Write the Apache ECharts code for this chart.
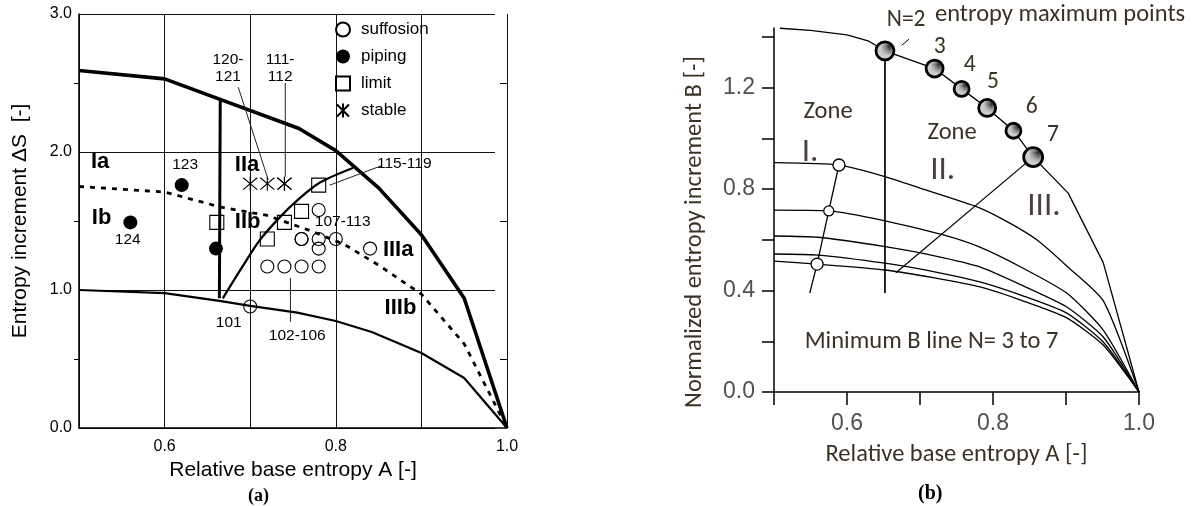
<!DOCTYPE html>
<html>
<head>
<meta charset="utf-8">
<script src="https://cdn.jsdelivr.net/npm/echarts@6/dist/echarts.min.js"></script>
<style>
  html, body { margin: 0; padding: 0; background: #fff; }
  #chart { width: 1196px; height: 506px; }
</style>
</head>
<body>
<div id="chart"></div>
<script>
// ---------- (a) test results: [A, ΔS] ----------
const suffosion = [[0.70, 0.88], [0.72, 1.17], [0.74, 1.17], [0.76, 1.17], [0.78, 1.17],
  [0.76, 1.37], [0.76, 1.37], [0.78, 1.37], [0.78, 1.30], [0.80, 1.37], [0.78, 1.58], [0.84, 1.30]];
const piping = [[0.62, 1.76], [0.56, 1.49], [0.66, 1.30]];
const limit = [[0.661, 1.49], [0.72, 1.37], [0.74, 1.49], [0.76, 1.57], [0.78, 1.76]];
const stable = [[0.70, 1.77], [0.72, 1.77], [0.74, 1.77], [0.74, 1.77]];

// (a) zone boundaries
const upperBound = [[0.5, 2.59], [0.6, 2.53], [0.757, 2.17], [0.8, 2.01], [0.85, 1.74], [0.9, 1.40], [0.95, 0.94], [1.0, 0]];
const lowerBound = [[0.5, 1.0], [0.6, 0.978], [0.666, 0.92], [0.7, 0.885], [0.755, 0.836], [0.8, 0.775],
  [0.842, 0.696], [0.9, 0.543], [0.95, 0.362], [1.0, 0]];
const abDivide = [[0.5, 1.75], [0.6, 1.71], [0.666, 1.60], [0.72, 1.54], [0.77, 1.43], [0.81, 1.33],
  [0.85, 1.18], [0.9, 0.97], [0.95, 0.61], [1.0, 0]];
const zone2Left = [[0.665, 2.38], [0.664, 0.94]];
const zone3Lower = [[0.668, 0.94], [0.69, 1.16], [0.711, 1.36], [0.735, 1.53], [0.755, 1.65], [0.782, 1.78], [0.82, 1.884]];

// (a) annotations: [text, A, ΔS]
const zoneNamesA = [['Ia', 0.514, 1.93], ['Ib', 0.515, 1.52], ['IIa', 0.682, 1.906], ['IIb', 0.682, 1.49],
  ['IIIa', 0.855, 1.29], ['IIIb', 0.857, 0.87]];
const testNosA = [['123', 0.624, 1.906], ['124', 0.557, 1.362], ['120-\n121', 0.674, 2.605], ['111-\n112', 0.735, 2.605],
  ['115-119', 0.88, 1.913], ['107-113', 0.808, 1.493], ['101', 0.675, 0.762], ['102-106', 0.755, 0.667]];
const leadersA = [
  [[0.686, 2.47], [0.721, 1.80]],
  [[0.741, 2.50], [0.741, 1.82]],
  [[0.853, 1.90], [0.793, 1.76]],
  [[0.747, 1.087], [0.747, 0.77]]
];
const ticksA = { x: [0.6, 0.8, 1.0], yLabels: [0, 1, 2, 3], yMinor: [0.5, 1.5, 2.5] };

// ---------- (b) normalized entropy increment B: [A, B] ----------
const envelopeB = [[0.508, 1.434], [0.55, 1.426], [0.6, 1.408], [0.63, 1.383], [0.652, 1.345], [0.72, 1.275],
  [0.757, 1.195], [0.792, 1.12], [0.828, 1.03], [0.855, 0.926], [0.903, 0.784], [0.951, 0.51], [1.0, 0]];
const curveN3 = [[0.5, 0.904], [0.589, 0.895], [0.652, 0.849], [0.70, 0.804], [0.779, 0.729], [0.823, 0.666],
  [0.86, 0.60], [0.901, 0.497], [0.951, 0.36], [1.0, 0]];
const curveN4 = [[0.5, 0.717], [0.575, 0.714], [0.652, 0.675], [0.732, 0.619], [0.782, 0.571], [0.84, 0.49],
  [0.901, 0.39], [0.951, 0.244], [1.0, 0]];
const curveN5 = [[0.5, 0.615], [0.56, 0.61], [0.652, 0.573], [0.72, 0.537], [0.782, 0.493], [0.84, 0.42],
  [0.901, 0.335], [0.951, 0.217], [1.0, 0]];
const curveN6 = [[0.5, 0.544], [0.56, 0.54], [0.652, 0.508], [0.72, 0.474], [0.782, 0.434], [0.84, 0.38],
  [0.901, 0.311], [0.951, 0.197], [1.0, 0]];
const curveN7 = [[0.5, 0.516], [0.559, 0.504], [0.652, 0.481], [0.72, 0.45], [0.782, 0.414], [0.84, 0.36],
  [0.901, 0.292], [0.951, 0.185], [1.0, 0]];
const maxPointsB = [[0.652, 1.345], [0.72, 1.275], [0.757, 1.195], [0.792, 1.12], [0.828, 1.03], [0.855, 0.926]];
const minPointsB = [[0.589, 0.895], [0.575, 0.714], [0.559, 0.504]];
const minLineB = [[0.589, 0.895], [0.575, 0.714], [0.559, 0.504], [0.549, 0.39]];
const zone2LeftB = [[0.652, 1.345], [0.652, 0.39]];
const zone3LeftB = [[0.855, 0.926], [0.667, 0.47]];
const n2LeaderB = [[0.675, 1.367], [0.685, 1.391]];

// (b) annotations: [text, A, B]
const maxTagsB = [['N=2', 0.681, 1.466], ['3', 0.727, 1.36], ['4', 0.768, 1.289], ['5', 0.8, 1.222],
  ['6', 0.853, 1.123], ['7', 0.882, 1.012]];
const zoneWordsB = [['Zone', 0.574, 1.103], ['Zone', 0.744, 1.02]];
const zoneNumsB = [['I.', 0.538, 0.942], ['II.', 0.714, 0.871], ['III.', 0.847, 0.729]];
const notesB = [['entropy maximum points', 0.7205, 1.486], ['Minimum B line N= 3 to 7', 0.542, 0.197]];
const ticksB = { x: [0.5, 0.6, 0.7, 0.8, 0.9, 1.0], xLabels: [0.6, 0.8, 1.0],
  y: [0, 0.2, 0.4, 0.6, 0.8, 1.0, 1.2, 1.4], yLabels: [0, 0.4, 0.8, 1.2] };

// ---------- styling ----------
const FA = "'Liberation Sans', Arial, Helvetica, sans-serif";
const FB = "Carlito, Lato, 'Open Sans', sans-serif";
const FS = "'Liberation Serif', 'Times New Roman', serif";
const INK_B = '#3b3226';
const ASTER = 'path://M0,-10L0,10M-8.5,-8.5L8.5,8.5M-8.5,8.5L8.5,-8.5';

// speckled fill for the entropy maximum points
const dots = document.createElement('canvas');
dots.width = 3; dots.height = 3;
const dctx = dots.getContext('2d');
dctx.fillStyle = '#cdcdcd'; dctx.fillRect(0, 0, 3, 3);
dctx.fillStyle = '#2a2a2a'; dctx.fillRect(1, 1, 1, 1); dctx.fillRect(0, 2, 1, 1);

const fmt1 = v => Number(v).toFixed(1);

function line(data, xi, yi, width, opts) {
  return Object.assign({
    type: 'line', xAxisIndex: xi, yAxisIndex: yi, data: data, showSymbol: false, symbol: 'none',
    silent: true, z: 2, clip: false,
    lineStyle: { color: '#000', width: width }
  }, opts || {});
}

function texts(items, xi, yi, label) {
  return {
    type: 'scatter', xAxisIndex: xi, yAxisIndex: yi, symbolSize: 1, silent: true, z: 5, clip: false,
    itemStyle: { color: 'transparent', opacity: 1 },
    data: items.map(t => ({ value: [t[1], t[2]], label: { formatter: t[0] } })),
    label: Object.assign({ show: true, position: 'inside', verticalAlign: 'middle', textBorderWidth: 0 }, label)
  };
}

function marks(name, data, symbol, size, filled) {
  return {
    name: name, type: 'scatter', xAxisIndex: 0, yAxisIndex: 0, data: data, symbol: symbol, symbolSize: size, z: 3,
    itemStyle: filled
      ? { color: '#000', borderWidth: 0, opacity: 1 }
      : { color: 'transparent', borderColor: '#000', borderWidth: 1.1, opacity: 1 }
  };
}

const series = [
  // (a) boundaries
  line(upperBound, 0, 0, 3.6),
  line(lowerBound, 0, 0, 2.2),
  line(abDivide, 0, 0, 2.8, { lineStyle: { color: '#000', width: 2.8, type: [5, 6] } }),
  line(zone2Left, 0, 0, 3),
  line(zone3Lower, 0, 0, 2.3, { smooth: 0.3 }),
  ...leadersA.map(seg => line(seg, 0, 0, 1, { lineStyle: { color: '#222', width: 1 } })),
  // (a) test points
  marks('suffosion', suffosion, 'circle', 13, false),
  marks('piping', piping, 'circle', 14, true),
  marks('limit', limit, 'rect', 14, false),
  marks('stable', stable, ASTER, 14, false),
  texts(zoneNamesA, 0, 0, { align: 'left', fontFamily: FA, fontSize: 22, fontWeight: 'bold', color: '#000' }),
  texts(testNosA, 0, 0, { align: 'center', fontFamily: FA, fontSize: 15.5, lineHeight: 17, color: '#000' }),

  // (b) curves
  line(envelopeB, 1, 2, 1.3),
  line(curveN3, 1, 2, 1.3, { smooth: 0.2 }),
  line(curveN4, 1, 2, 1.3, { smooth: 0.2 }),
  line(curveN5, 1, 2, 1.3, { smooth: 0.2 }),
  line(curveN6, 1, 2, 1.3, { smooth: 0.2 }),
  line(curveN7, 1, 2, 1.3, { smooth: 0.2 }),
  line(minLineB, 1, 2, 1.3),
  line(zone2LeftB, 1, 2, 1.7),
  line(zone3LeftB, 1, 2, 1.2),
  line(n2LeaderB, 1, 2, 1),
  { type: 'scatter', xAxisIndex: 1, yAxisIndex: 2, data: minPointsB, symbol: 'circle', z: 3, silent: true,
    symbolSize: (v, p) => [12, 10, 12][p.dataIndex],
    itemStyle: { color: '#fff', borderColor: '#000', borderWidth: 1.3, opacity: 1 } },
  { type: 'scatter', xAxisIndex: 1, yAxisIndex: 2, data: maxPointsB, symbol: 'circle', z: 3, silent: true, clip: false,
    symbolSize: (v, p) => [18, 17, 15, 17, 15, 19][p.dataIndex],
    itemStyle: { color: { image: dots, repeat: 'repeat' }, borderColor: '#000', borderWidth: 2.8, opacity: 1 } },
  texts(maxTagsB, 1, 2, { align: 'center', fontFamily: FB, fontSize: 23.5, color: INK_B }),
  texts(zoneWordsB, 1, 2, { align: 'center', fontFamily: FB, fontSize: 24.5, color: INK_B }),
  texts(zoneNumsB, 1, 2, { align: 'left', fontFamily: FB, fontSize: 33, fontWeight: 300, color: '#4a3f47' }),
  texts(notesB, 1, 2, { align: 'left', fontFamily: FB, fontSize: 24.5, color: INK_B })
];

const option = {
  animation: false,
  backgroundColor: '#fff',
  grid: [
    { left: 79, top: 14, width: 428, height: 414 },
    { left: 774, top: 28, width: 365, height: 364 },
    { left: 79, top: 14, width: 416, height: 414 }
  ],
  legend: {
    data: ['suffosion', 'piping', 'limit', 'stable'],
    orient: 'vertical', left: 330, top: 16, itemWidth: 14, itemHeight: 14, itemGap: 10,
    selectedMode: false,
    textStyle: { fontFamily: FA, fontSize: 17, color: '#000', padding: [0, 0, 0, 6], lineHeight: 14 }
  },
  xAxis: [
    { gridIndex: 0, type: 'value', min: 0.5, max: 1.0, interval: 0.1,
      axisLine: { lineStyle: { color: '#000', width: 1.5 } },
      axisTick: { show: false },
      splitLine: { show: true, lineStyle: { color: '#111', width: 1 } },
      axisLabel: { customValues: ticksA.x, formatter: fmt1, margin: 11, fontFamily: FA, fontSize: 16, color: '#000' },
      name: 'Relative base entropy A [-]', nameLocation: 'middle', nameGap: 30,
      nameTextStyle: { fontFamily: FA, fontSize: 21, color: '#000' } },
    { gridIndex: 1, type: 'value', min: 0.5, max: 1.0, interval: 0.1,
      axisLine: { lineStyle: { color: '#000', width: 1.5 } },
      axisTick: { customValues: ticksB.x, length: 13, lineStyle: { color: '#000', width: 1.5 } },
      splitLine: { show: false },
      axisLabel: { customValues: ticksB.xLabels, formatter: fmt1, margin: 20, fontFamily: FA, fontSize: 23, color: '#505050' },
      name: 'Relative base entropy A [-]', nameLocation: 'middle', nameGap: 50,
      nameTextStyle: { fontFamily: FB, fontSize: 24.5, color: INK_B } },
    { gridIndex: 2, type: 'value', min: 0.5, max: 1.0, show: false }
  ],
  yAxis: [
    { gridIndex: 0, type: 'value', min: 0, max: 3, interval: 0.5,
      axisLine: { show: true, lineStyle: { color: '#000', width: 1.5 } },
      axisTick: { show: true, customValues: ticksA.yMinor, length: 5, lineStyle: { color: '#000', width: 1 } },
      splitLine: { show: false },
      axisLabel: { customValues: ticksA.yLabels, formatter: fmt1, margin: 7, fontFamily: FA, fontSize: 16, color: '#000' },
      name: 'Entropy increment \u0394S  [-]', nameLocation: 'middle', nameGap: 48, nameRotate: 90,
      nameTextStyle: { fontFamily: FA, fontSize: 21, color: '#000' } },
    { gridIndex: 0, type: 'value', min: 0, max: 3, interval: 0.5,
      axisLine: { show: false }, axisLabel: { show: false }, splitLine: { show: false },
      axisTick: { show: true, inside: true, customValues: ticksA.yMinor, length: 7, lineStyle: { color: '#000', width: 1 } } },
    { gridIndex: 1, type: 'value', min: 0, max: 1.435, interval: 0.2,
      axisLine: { show: true, lineStyle: { color: '#000', width: 1.5 } },
      axisTick: { show: true, customValues: ticksB.y, length: 12, lineStyle: { color: '#000', width: 1.5 } },
      splitLine: { show: false },
      axisLabel: { customValues: ticksB.yLabels, formatter: fmt1, margin: 19, fontFamily: FA, fontSize: 23, color: '#505050' },
      name: 'Normalized entropy increment B [-]', nameLocation: 'middle', nameGap: 67, nameRotate: 90,
      nameTextStyle: { fontFamily: FB, fontSize: 24.5, color: INK_B, padding: [0, 44, 0, 0] } },
    { gridIndex: 2, type: 'value', min: 0, max: 3, interval: 1,
      axisLine: { show: false }, axisTick: { show: false }, axisLabel: { show: false },
      splitLine: { show: true, lineStyle: { color: '#111', width: 1 } } }
  ],
  graphic: [
    { type: 'text', left: 248, top: 487, style: { text: '(a)', font: 'bold 18px ' + FS, fill: '#000' } },
    { type: 'text', left: 918, top: 484, style: { text: '(b)', font: 'bold 20px ' + FS, fill: '#000' } }
  ],
  series: series
};

const chart = echarts.init(document.getElementById('chart'), null, { renderer: 'canvas' });
chart.setOption(option);
</script>
</body>
</html>
